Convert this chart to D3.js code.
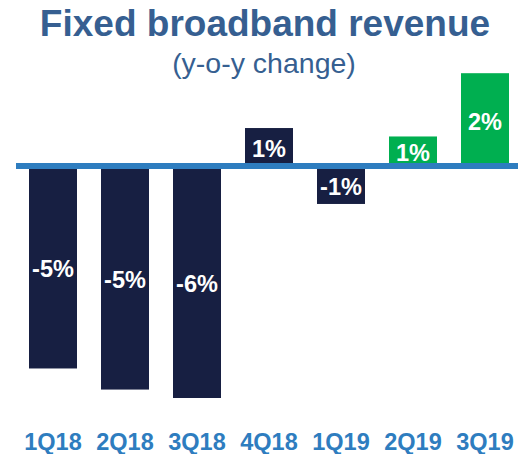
<!DOCTYPE html>
<html>
<head>
<meta charset="utf-8">
<script src="https://cdn.jsdelivr.net/npm/d3@7"></script>
<style>
  body { margin: 0; background: #fff; }
  text { font-family: 'Liberation Sans', Arial, sans-serif; }
</style>
</head>
<body>
<script>
const quarters = ['1Q18', '2Q18', '3Q18', '4Q18', '1Q19', '2Q19', '3Q19']
const changes = [-4.8, -5.3, -5.5, 0.9, -0.9, 0.7, 2.2]
const labels = ['-5%', '-5%', '-6%', '1%', '-1%', '1%', '2%']
const highlight = ['2Q19', '3Q19']

const width = 522
const height = 454

const svg = d3.select('body').append('svg')
  .attr('width', width)
  .attr('height', height)

const x = d3.scaleBand()
  .domain(quarters)
  .range([29, 509])
  .paddingInner(1 / 3)
  .paddingOuter(0)

const y = d3.scaleLinear()
  .domain([0, -5.5])
  .range([166, 398])

const color = q => highlight.includes(q) ? '#00AF50' : '#171F42'

svg.append('text')
  .attr('x', 265)
  .attr('y', 36)
  .attr('text-anchor', 'middle')
  .style('font-size', '37px')
  .style('font-weight', 'bold')
  .style('fill', '#365F91')
  .text('Fixed broadband revenue')

svg.append('text')
  .attr('x', 264)
  .attr('y', 73)
  .attr('text-anchor', 'middle')
  .style('font-size', '28.5px')
  .style('fill', '#365F91')
  .text('(y-o-y change)')

svg.selectAll('rect.bar')
  .data(changes)
  .enter().append('rect')
    .attr('class', 'bar')
    .attr('x', (d, i) => x(quarters[i]))
    .attr('width', x.bandwidth())
    .attr('y', d => Math.min(y(d), y(0)))
    .attr('height', d => Math.abs(y(d) - y(0)))
    .style('fill', (d, i) => color(quarters[i]))

// zero line
svg.append('line')
  .attr('x1', 16)
  .attr('x2', 518)
  .attr('y1', y(0))
  .attr('y2', y(0))
  .style('stroke', '#2E7DBF')
  .style('stroke-width', 6)

svg.selectAll('text.value')
  .data(changes)
  .enter().append('text')
    .attr('class', 'value')
    .attr('x', (d, i) => x(quarters[i]) + x.bandwidth() / 2)
    .attr('y', d => (y(d) + y(0)) / 2 + 2)
    .attr('text-anchor', 'middle')
    .attr('dominant-baseline', 'central')
    .style('font-size', '23.5px')
    .style('font-weight', 'bold')
    .style('fill', '#fff')
    .text((d, i) => labels[i])

svg.selectAll('text.quarter')
  .data(quarters)
  .enter().append('text')
    .attr('class', 'quarter')
    .attr('x', d => x(d) + x.bandwidth() / 2)
    .attr('y', 450)
    .attr('text-anchor', 'middle')
    .style('font-size', '23.5px')
    .style('font-weight', 'bold')
    .style('fill', '#2E7DBF')
    .text(d => d)
</script>
</body>
</html>
